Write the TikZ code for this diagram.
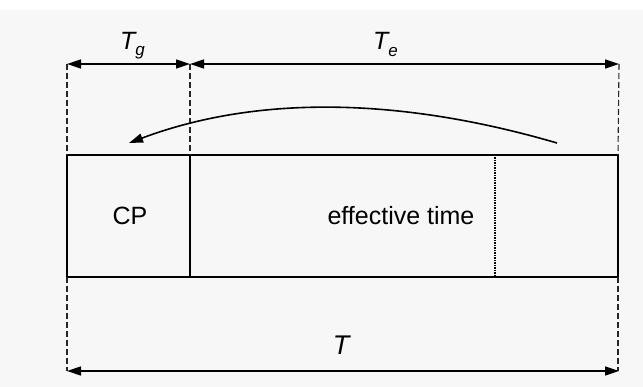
\documentclass[tikz,border=0pt]{standalone}
\usepackage{fontspec}
\setmainfont{Liberation Sans}
\usetikzlibrary{arrows.meta}
\tikzset{
  boxline/.style={line width=1.7pt},
  guide/.style={line width=1.1pt, dash pattern=on 6pt off 3pt, black!85},
  dim/.style={line width=1.4pt, {Triangle[length=14pt,width=9pt]}-{Triangle[length=14pt,width=9pt]}},
  curv/.style={line width=1.6pt, -{Triangle[length=14pt,width=9pt]}},
  lbl/.style={inner sep=0pt, font=\fontsize{25}{30}\selectfont},
}
\begin{document}
\begin{tikzpicture}[x=1pt,y=-1pt]
\useasboundingbox (0,0) rectangle (643,387);
\fill[black!3] (0,10) rectangle (643,387);
% coordinates
\coordinate (tl) at (67,155);
\coordinate (tr) at (618,155);
\coordinate (bl) at (67,277);
\coordinate (br) at (618,277);
\coordinate (dt) at (190,155);
\coordinate (db) at (190,277);
\coordinate (et) at (495,155);
\coordinate (eb) at (495,277);
\coordinate (al) at (67,64);
\coordinate (am) at (190,64);
\coordinate (ar) at (619,64);
\coordinate (bbl) at (67,371);
\coordinate (bbr) at (619,371);
\coordinate (cs) at (557,143);
\coordinate (ce) at (129,143);
% box
\draw[boxline] (tl) rectangle (br);
\draw[line width=1.4pt] (dt) -- (db);
\draw[line width=1.4pt, dash pattern=on 1.5pt off 1pt] (et) -- (eb);
% guides
\draw[guide] (al) -- (tl);
\draw[guide] (am) -- (dt);
\draw[guide] (ar |- al) -- (tr);
\draw[guide] (bl) -- (bbl);
\draw[guide] (br) -- (bbr -| br);
% dimension arrows
\draw[dim] (al) -- (am);
\draw[dim] (am) -- (ar);
\draw[dim] (bbl) -- (bbr);
% curved arrow
\draw[curv] (cs) .. controls (396,96) and (254,96) .. (ce);
% labels
\node[lbl] (cp) at (130,216) {CP};
\node[lbl] (eff) at (401,216) {effective time};
\node[lbl, font=\fontsize{27}{30}\selectfont\itshape] (T) at (341,345) {T};
\node[inner sep=0pt, anchor=base west] (Tg) at (120,50) {\fontsize{25}{30}\selectfont\itshape T\raisebox{-6pt}{\fontsize{17}{20}\selectfont g}};
\node[inner sep=0pt, anchor=base west] (Te) at (373,50) {\fontsize{25}{30}\selectfont\itshape T\raisebox{-7pt}{\fontsize{17}{20}\selectfont e}};
\end{tikzpicture}
\end{document}
